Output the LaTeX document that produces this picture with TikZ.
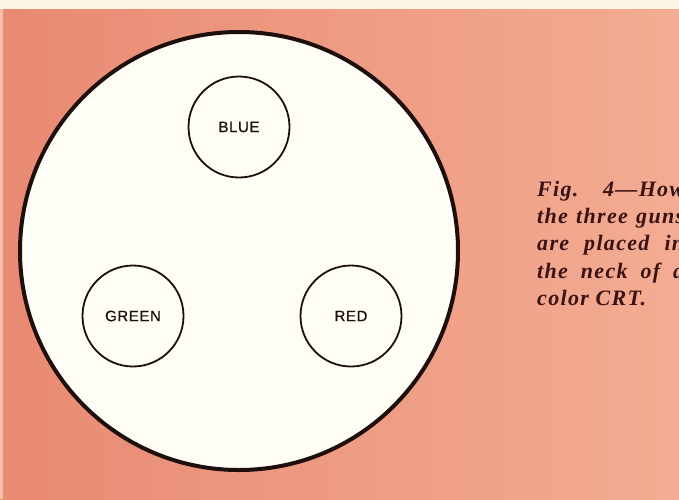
\documentclass[tikz,border=0pt]{standalone}
\usepackage{fontspec}
\newfontfamily\labelfont[LetterSpace=4,FakeBold=0.8]{Liberation Sans}
\newfontfamily\capfont[LetterSpace=6]{Liberation Serif}
\definecolor{bgL}{HTML}{E98A72}
\definecolor{bgR}{HTML}{F3AC93}
\definecolor{paper}{HTML}{FBF4E4}
\definecolor{face}{HTML}{FFFEF6}
\definecolor{ink}{HTML}{1E0E0C}
\definecolor{capink}{HTML}{3A1212}
\begin{document}
\begin{tikzpicture}[x=1pt,y=-1pt,
  gun/.style={circle, draw=ink, line width=1.8pt, fill=face, minimum size=101pt, inner sep=0pt,
    font=\labelfont\fontsize{15}{15}\selectfont, text=ink},
  capline/.style={anchor=base west, inner sep=0pt, text=capink,
    font=\capfont\fontsize{22}{22}\selectfont\bfseries\itshape}]
\useasboundingbox (0,0) rectangle (679,499);
\clip (0,0) rectangle (679,499);
\shade[left color=bgL, right color=bgR] (0,0) rectangle (679,499);
\fill[paper] (0,0) rectangle (679,9);
\fill[paper, opacity=0.5] (0,9) rectangle (3,499);
% neck
\node[circle, draw=ink, line width=4pt, fill=face, minimum size=438pt, inner sep=0pt] (neck) at (239,251) {};
% guns
\node[gun] (blue) at (239,127) {BLUE};
\node[gun] (green) at (133,316) {GREEN};
\node[gun] (red) at (351,316) {RED};
% caption
\node[capline] (c1) at (537,196) {\makebox[147pt][s]{Fig. 4\textemdash How}};
\node[capline] (c2) at (537,223) {\makebox[147pt][s]{the three guns}};
\node[capline] (c3) at (537,250) {\makebox[147pt][s]{are placed in}};
\node[capline] (c4) at (537,278) {\makebox[147pt][s]{the neck of a}};
\node[capline] (c5) at (537,305) {color CRT.};
\end{tikzpicture}
\end{document}
